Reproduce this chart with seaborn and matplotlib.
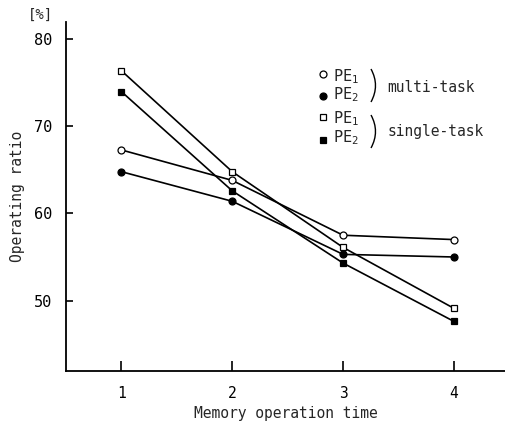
import numpy as np
import pandas as pd
import matplotlib
matplotlib.use("Agg")
import matplotlib.pyplot as plt
from matplotlib.lines import Line2D
from matplotlib.path import Path
from matplotlib.patches import PathPatch
import seaborn as sns

# Operating ratio [%] versus memory operation time
memory_time = [1, 2, 3, 4]
multi_pe1 = [67.3, 63.8, 57.5, 57.0]
multi_pe2 = [64.8, 61.4, 55.3, 55.0]
single_pe1 = [76.4, 64.8, 56.1, 49.1]
single_pe2 = [74.0, 62.6, 54.3, 47.6]
y_ticks = [50, 60, 70, 80]
x_ticks = [1, 2, 3, 4]

sns.set_style("ticks")
plt.rcParams["font.family"] = ["DejaVu Sans Mono", "DejaVu Sans"]
plt.rcParams["mathtext.fontset"] = "custom"
plt.rcParams["mathtext.rm"] = "DejaVu Sans Mono"
plt.rcParams["mathtext.it"] = "DejaVu Sans Mono"

W, H = 506, 428
fig = plt.figure(figsize=(W / 100, H / 100), dpi=100)
fig.patch.set_facecolor("white")
ax = fig.add_axes([66 / W, 1 - 371 / H, (W - 66) / W, (371 - 22) / H])
ax.set_facecolor("white")

series = [
    (multi_pe1, "o", "white"),
    (multi_pe2, "o", "black"),
    (single_pe1, "s", "white"),
    (single_pe2, "s", "black"),
]
for values, marker, face in series:
    df = pd.DataFrame({"time": memory_time, "ratio": values})
    sns.lineplot(data=df, x="time", y="ratio", ax=ax, color="black",
                 linewidth=1.2, marker=marker, markersize=5 if marker == "o" else 4.6,
                 markerfacecolor=face, markeredgecolor="black",
                 markeredgewidth=0.9, zorder=3)

ax.set_xlim(0.5, 4.47)
ax.set_ylim(41.9, 82.0)
ax.set_xticks(x_ticks)
ax.set_yticks(y_ticks)
ax.set_xticklabels([str(t) for t in x_ticks])
ax.set_yticklabels([str(t) for t in y_ticks])
ax.tick_params(axis="y", direction="in", length=5, width=1.2, pad=10,
               labelsize=11, colors="black")
ax.tick_params(axis="x", direction="in", length=7, width=1.2, pad=11,
               labelsize=10.5, colors="black")
for side in ["top", "right"]:
    ax.spines[side].set_visible(False)
for side in ["left", "bottom"]:
    ax.spines[side].set_linewidth(1.3)
    ax.spines[side].set_color("black")

ax.set_xlabel("Memory operation time", fontsize=10.5, labelpad=3.5)
ax.set_ylabel("Operating ratio", fontsize=10.5, labelpad=6.5)


def fx(px):
    return px / W


def fy(py):
    return 1 - py / H


fig.text(fx(40), fy(15), "[%]", ha="center", va="center", fontsize=10)

# Key: markers, labels and brackets
key_rows = [
    (74, 77, "o", "white", r"PE$_1$"),
    (95.5, 95, "o", "black", r"PE$_2$"),
    (116.5, 119, "s", "white", r"PE$_1$"),
    (140, 138, "s", "black", r"PE$_2$"),
]
for my, ty, marker, face, label in key_rows:
    fig.add_artist(Line2D([fx(323)], [fy(my)], transform=fig.transFigure,
                          marker=marker, markersize=5 if marker == "o" else 4.6,
                          markerfacecolor=face, markeredgecolor="black",
                          markeredgewidth=0.9, linestyle="none"))
    fig.text(fx(333), fy(ty), label, ha="left", va="center", fontsize=11)

for top, bot in [(69, 102), (115, 148)]:
    mid = (top + bot) / 2
    verts = [(fx(371), fy(top)), (fx(380), fy(mid)), (fx(371), fy(bot))]
    path = Path(verts, [Path.MOVETO, Path.CURVE3, Path.CURVE3])
    fig.add_artist(PathPatch(path, transform=fig.transFigure, facecolor="none",
                             edgecolor="black", linewidth=1.0))

fig.text(fx(387), fy(88), "multi-task", ha="left", va="center", fontsize=10.5)
fig.text(fx(388), fy(132), "single-task", ha="left", va="center", fontsize=10.5)

fig.savefig("out.png", dpi=100, facecolor="white")
